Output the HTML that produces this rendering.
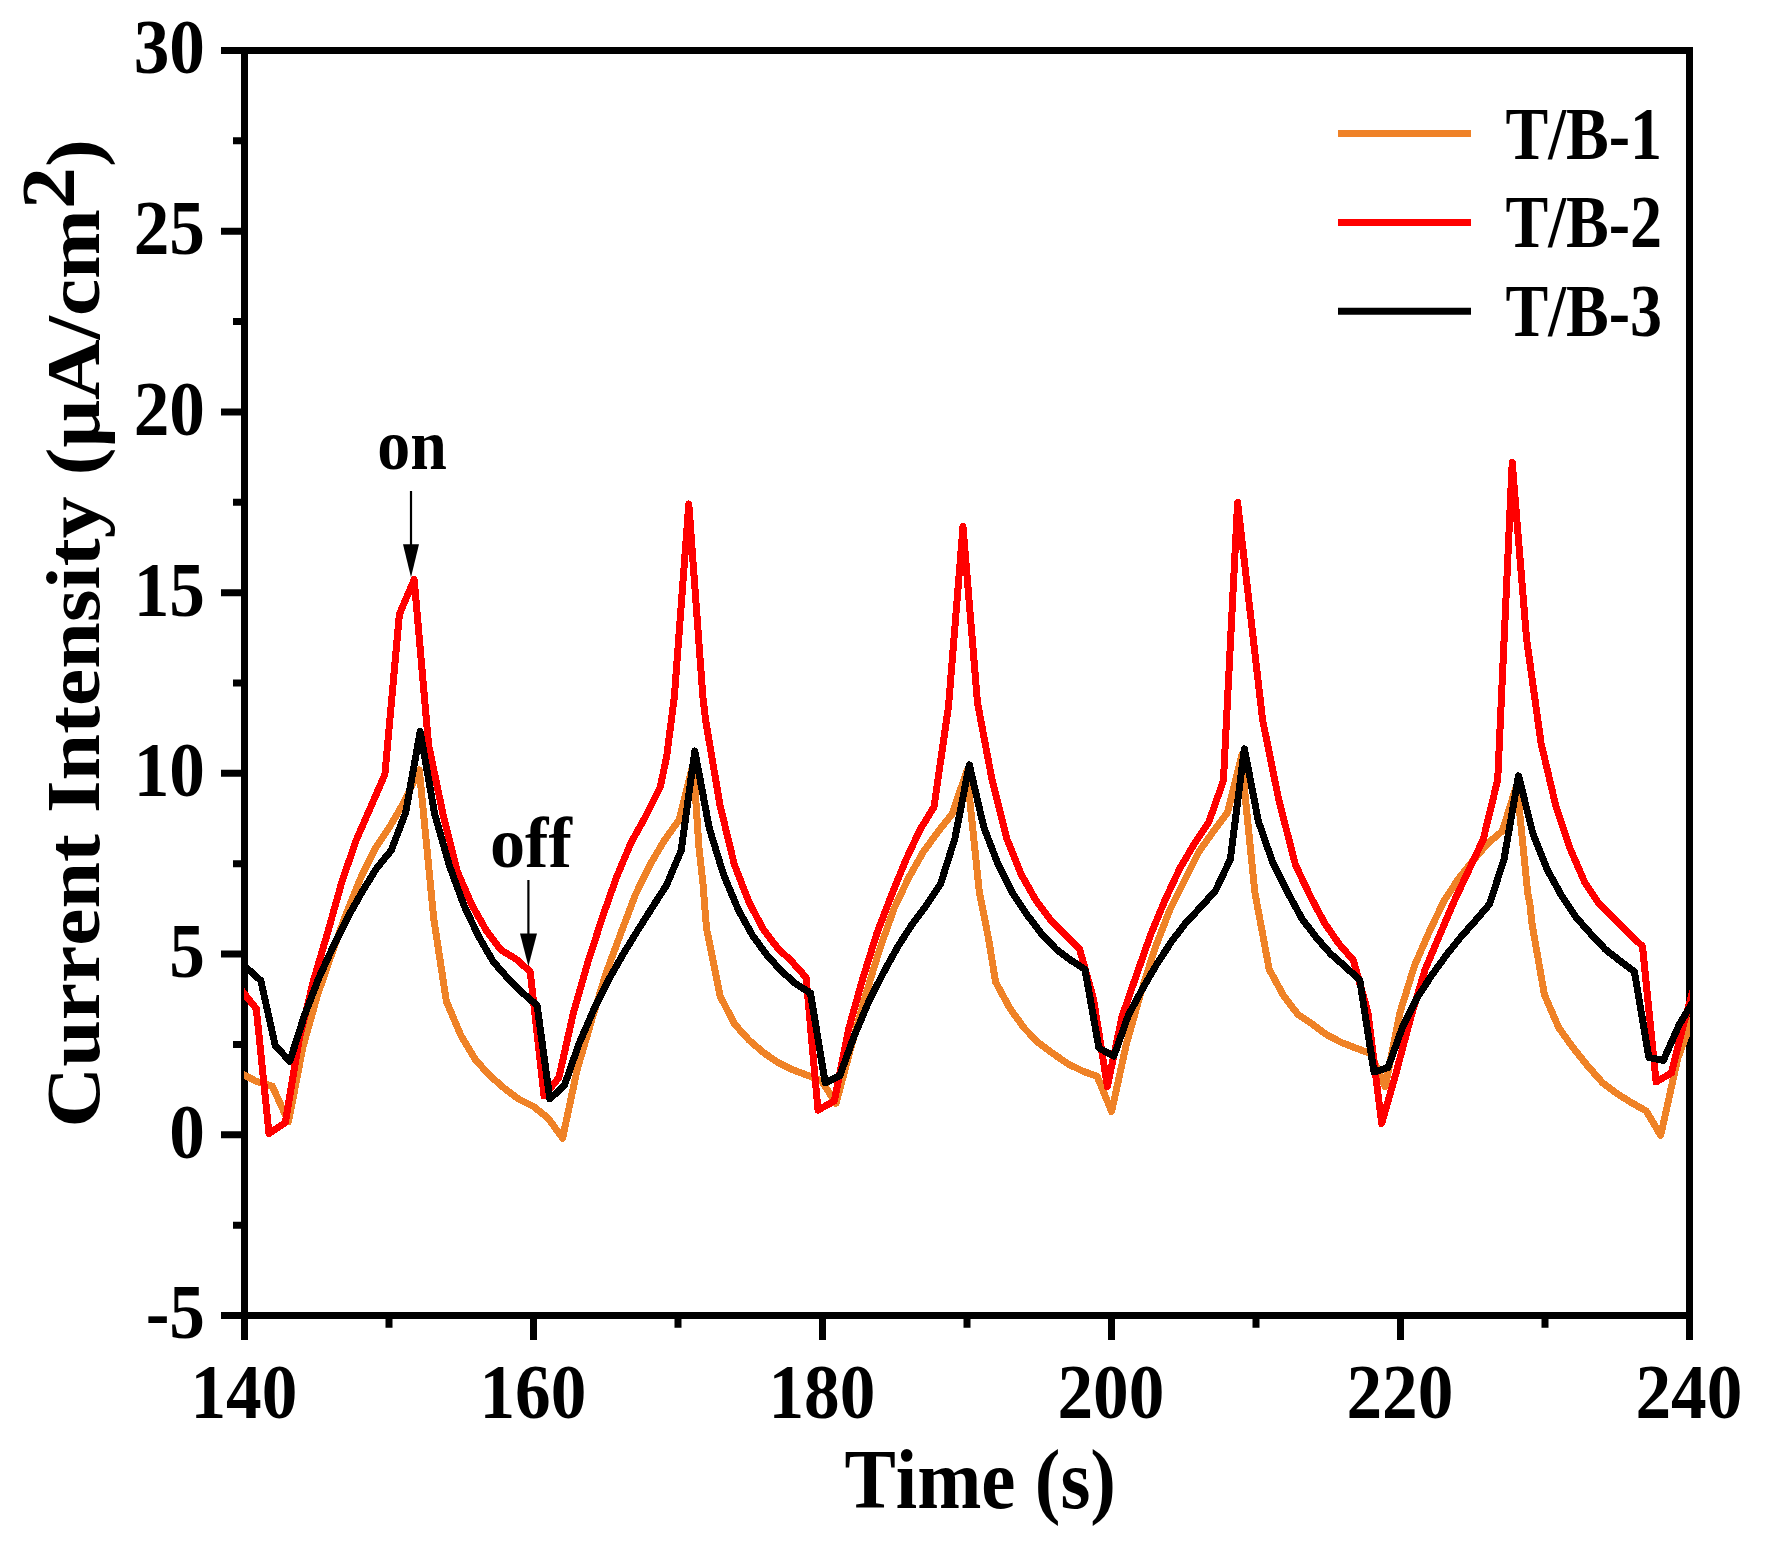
<!DOCTYPE html>
<html lang="en"><head><meta charset="utf-8"><title>Current Intensity vs Time</title>
<style>
html,body{margin:0;padding:0;background:#fff;}
body{width:1768px;height:1546px;overflow:hidden;}
svg{display:block;}
text{font-variant-ligatures:none;font-kerning:none;font-family:"Liberation Serif",serif;font-weight:bold;fill:#000;}
</style></head><body>
<svg width="1768" height="1546" viewBox="0 0 1768 1546">
<rect x="0" y="0" width="1768" height="1546" fill="#fff"/>
<defs><clipPath id="plot"><rect x="244.0" y="50.5" width="1446.0" height="1265.0"/></clipPath></defs>

<g stroke="#000" stroke-width="7" fill="none" stroke-linecap="butt">
<path d="M221.0 50.5H1693.0M1689.5 50.5V1340.0M221.0 1315.5H1693.0M244.5 47.0V1340.0"/>
<path d="M221.0 231.21H244.5M221.0 411.93H244.5M221.0 592.64H244.5M221.0 773.36H244.5M221.0 954.07H244.5M221.0 1134.79H244.5M233.0 140.86H244.5M233.0 321.57H244.5M233.0 502.29H244.5M233.0 683.00H244.5M233.0 863.71H244.5M233.0 1044.43H244.5M233.0 1225.14H244.5M533.50 1315.5V1340.0M822.50 1315.5V1340.0M1111.50 1315.5V1340.0M1400.50 1315.5V1340.0M389.00 1315.5V1327.7M678.00 1315.5V1327.7M967.00 1315.5V1327.7M1256.00 1315.5V1327.7M1545.00 1315.5V1327.7"/>
</g>
<g clip-path="url(#plot)" fill="none" stroke-width="7" stroke-linejoin="round" stroke-linecap="round" shape-rendering="crispEdges">
<polyline stroke="#ef8228" points="240.0,1073.0 256.2,1081.3 272.3,1086.2 288.5,1121.8 303.0,1046.7 317.6,994.8 332.1,952.8 346.6,912.7 361.2,876.8 375.7,847.9 390.2,825.9 404.8,800.8 419.3,770.0 433.8,919.2 446.4,1001.4 460.9,1035.4 475.4,1059.7 490.0,1075.8 504.5,1088.4 519.0,1099.3 533.5,1106.5 548.1,1118.2 562.6,1138.1 577.1,1069.9 591.7,1020.0 606.2,972.8 620.8,933.3 635.4,894.7 649.9,864.9 664.5,840.2 679.0,820.0 693.3,763.0 698.9,846.8 702.9,883.0 706.5,928.3 720.1,996.0 734.6,1024.1 749.1,1040.2 763.6,1052.7 778.0,1062.5 792.5,1069.7 807.0,1075.1 821.5,1080.7 836.0,1103.3 850.5,1049.2 865.1,997.0 879.6,949.3 894.1,908.4 908.7,877.7 923.2,852.1 937.7,832.1 952.3,813.7 966.8,771.0 979.3,892.0 988.3,937.3 995.6,982.0 1010.1,1008.7 1024.6,1028.6 1039.1,1043.2 1053.6,1054.0 1068.1,1063.9 1082.6,1071.1 1097.1,1076.3 1111.6,1111.5 1126.1,1045.2 1140.6,993.7 1155.1,947.9 1169.6,910.4 1184.1,881.2 1198.6,852.2 1213.1,831.7 1227.6,812.4 1242.1,754.0 1244.8,792.4 1254.8,892.0 1269.2,969.4 1283.7,996.0 1298.2,1014.7 1312.7,1024.4 1327.2,1035.1 1341.7,1042.6 1356.2,1048.2 1370.7,1053.6 1385.2,1086.5 1399.9,1012.8 1414.5,965.6 1429.2,931.9 1443.8,901.3 1458.5,878.7 1473.1,860.5 1487.8,843.4 1502.4,831.0 1516.9,784.5 1527.6,892.0 1530.0,905.0 1532.1,924.6 1544.5,995.0 1559.0,1028.2 1573.5,1048.3 1588.1,1066.4 1602.6,1082.8 1617.1,1093.7 1631.7,1102.8 1646.2,1111.0 1660.7,1135.4 1677.8,1058.2 1695.0,1012.0"/>
<polyline stroke="#ff0000" points="240.0,988.5 256.3,1008.7 269.0,1133.6 285.3,1122.7 299.5,1037.4 313.8,979.7 328.0,931.3 342.2,880.7 356.4,839.7 370.7,807.1 384.9,774.3 399.4,614.3 414.2,579.5 428.6,745.0 443.1,814.6 457.6,872.3 472.1,905.4 486.7,931.2 501.2,950.2 515.7,958.8 530.2,971.6 544.0,1096.0 558.9,1077.5 573.4,1012.8 587.9,962.3 602.4,917.3 616.8,876.5 631.3,842.2 645.8,816.0 660.3,787.0 666.7,756.2 674.3,697.3 688.8,504.0 702.9,697.3 705.6,720.0 720.0,805.3 734.3,864.4 748.7,901.5 763.0,928.9 777.4,947.8 791.7,961.4 806.1,977.5 818.0,1110.1 834.3,1101.0 848.5,1029.4 862.8,978.4 877.0,933.0 891.3,895.6 905.5,860.8 919.8,830.1 934.0,806.9 948.5,706.4 963.0,526.6 977.5,702.7 992.1,780.3 1006.6,838.2 1021.2,874.4 1035.7,900.0 1050.3,919.4 1064.8,934.0 1079.4,948.5 1093.4,998.5 1107.4,1086.5 1121.9,1017.1 1136.4,975.2 1150.9,934.0 1165.4,899.2 1179.9,868.3 1194.4,843.6 1208.9,821.8 1223.4,780.7 1237.6,502.5 1250.1,611.2 1262.6,720.0 1279.0,800.8 1295.5,864.9 1310.0,895.6 1324.5,922.9 1338.9,943.7 1353.4,960.3 1367.9,1012.3 1381.7,1123.6 1396.2,1072.4 1410.7,1017.7 1425.2,969.3 1439.7,935.0 1454.2,901.1 1468.7,870.3 1483.2,839.5 1497.7,779.8 1512.2,462.5 1526.6,639.2 1541.1,743.5 1555.6,805.0 1570.1,848.5 1584.6,882.0 1599.0,903.7 1613.5,918.1 1628.0,932.6 1642.5,946.3 1656.1,1082.0 1671.5,1072.9 1683.2,1025.6 1695.0,983.0"/>
<polyline stroke="#000" points="240.0,962.0 260.8,980.6 275.3,1045.8 289.8,1061.2 304.3,1015.9 318.8,978.0 333.3,946.3 347.8,917.1 362.2,891.7 376.7,868.1 391.2,850.4 405.7,812.4 420.2,731.5 434.7,814.2 449.3,865.3 464.0,905.5 478.6,936.4 493.2,961.6 507.8,978.2 522.5,992.8 537.1,1005.5 549.8,1098.8 564.4,1085.5 579.0,1043.7 593.6,1010.1 608.2,980.5 622.8,954.7 637.4,930.9 652.0,907.8 666.6,885.0 681.2,850.4 694.8,751.0 709.3,828.4 723.7,875.0 738.2,909.6 752.6,935.6 767.1,955.4 781.6,971.2 796.0,984.0 810.5,993.0 825.2,1082.9 839.8,1075.7 854.2,1036.1 868.6,1001.9 883.0,973.5 897.4,947.3 911.7,924.9 926.1,905.6 940.5,884.2 954.9,838.5 969.3,764.8 983.8,827.3 998.2,864.7 1012.7,893.2 1027.2,915.0 1041.6,933.8 1056.1,949.1 1070.5,960.0 1085.0,969.5 1098.9,1048.0 1113.8,1056.2 1128.4,1015.2 1142.9,988.0 1157.5,963.0 1172.0,940.9 1186.6,921.9 1201.2,906.6 1215.7,890.3 1230.3,859.4 1244.4,748.7 1258.4,821.4 1272.9,863.1 1287.4,891.9 1301.9,918.6 1316.3,937.6 1330.8,954.0 1345.3,966.7 1359.8,980.2 1374.0,1072.0 1388.0,1067.5 1402.5,1027.1 1417.0,998.0 1431.5,975.6 1446.0,955.5 1460.5,937.4 1475.0,921.1 1489.5,904.2 1504.0,859.4 1518.5,775.8 1533.0,834.0 1547.5,870.2 1562.0,896.4 1576.5,917.8 1590.9,934.0 1605.4,949.5 1619.9,960.8 1634.4,971.6 1648.9,1057.6 1663.4,1060.3 1679.2,1024.7 1695.0,998.5"/>
</g>
<text transform="translate(205.0,73.4) scale(0.9023,1)" font-size="79" text-anchor="end">30</text>
<text transform="translate(205.0,254.1) scale(0.9023,1)" font-size="79" text-anchor="end">25</text>
<text transform="translate(205.0,434.8) scale(0.9023,1)" font-size="79" text-anchor="end">20</text>
<text transform="translate(205.0,615.5) scale(0.9023,1)" font-size="79" text-anchor="end">15</text>
<text transform="translate(205.0,796.3) scale(0.9023,1)" font-size="79" text-anchor="end">10</text>
<text transform="translate(205.0,977.0) scale(0.9023,1)" font-size="79" text-anchor="end">5</text>
<text transform="translate(205.0,1157.7) scale(0.9023,1)" font-size="79" text-anchor="end">0</text>
<text transform="translate(205.0,1338.4) scale(0.9023,1)" font-size="79" text-anchor="end">-5</text>
<text transform="translate(243.9,1417.7) scale(0.9023,1)" font-size="79" text-anchor="middle">140</text>
<text transform="translate(532.9,1417.7) scale(0.9023,1)" font-size="79" text-anchor="middle">160</text>
<text transform="translate(821.9,1417.7) scale(0.9023,1)" font-size="79" text-anchor="middle">180</text>
<text transform="translate(1110.9,1417.7) scale(0.9023,1)" font-size="79" text-anchor="middle">200</text>
<text transform="translate(1399.9,1417.7) scale(0.9023,1)" font-size="79" text-anchor="middle">220</text>
<text transform="translate(1688.9,1417.7) scale(0.9023,1)" font-size="79" text-anchor="middle">240</text>
<text transform="translate(980.2,1507.9) scale(0.906,1)" font-size="85" text-anchor="middle">Time (s)</text>
<text transform="translate(99,633.3) rotate(-90) scale(1,0.901)" font-size="83.85" text-anchor="middle">Current Intensity (μA/cm<tspan font-size="83.85" dy="-28">2</tspan><tspan dy="28">)</tspan></text>
<line x1="1338" x2="1471" y1="133.5" y2="133.5" stroke="#ef8228" stroke-width="7"/>
<text transform="translate(1505.5,158.5) scale(0.86,1)" font-size="74.5">T/B-1</text>
<line x1="1338" x2="1471" y1="222.4" y2="222.4" stroke="#ff0000" stroke-width="7"/>
<text transform="translate(1505.5,247.4) scale(0.86,1)" font-size="74.5">T/B-2</text>
<line x1="1338" x2="1471" y1="311.3" y2="311.3" stroke="#000" stroke-width="7"/>
<text transform="translate(1505.5,336.3) scale(0.86,1)" font-size="74.5">T/B-3</text>
<text transform="translate(377.2,469) scale(0.915,1)" font-size="72">on</text>
<text transform="translate(490,867) scale(0.975,1)" font-size="72">off</text>
<path d="M411 491V546" stroke="#000" stroke-width="2.2" fill="none"/><path d="M403 544.2H419L411 577.2Z" fill="#000"/>
<path d="M528.4 880V935" stroke="#000" stroke-width="2.2" fill="none"/><path d="M520 933.4H537L528.4 966.2Z" fill="#000"/>
</svg></body></html>
